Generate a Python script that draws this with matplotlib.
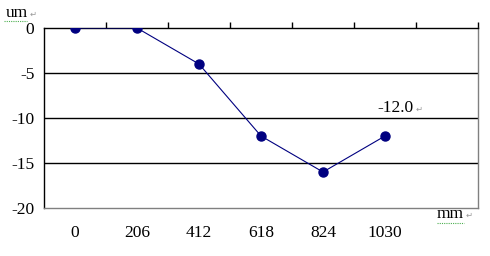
import matplotlib
matplotlib.use('Agg')
import matplotlib.pyplot as plt
from matplotlib.lines import Line2D

# data
positions_mm = ['0', '206', '412', '618', '824', '1030']
deviation_um = [0, 0, -4, -12, -16, -12]
y_ticks = [0, -5, -10, -15, -20]
n_slots = 7  # category axis has one empty slot at the end

plt.rcParams['font.family'] = ['Liberation Serif', 'DejaVu Serif']

W, H = 490, 256
FS = 12.5
fig = plt.figure(figsize=(W / 100, H / 100), dpi=100)
ax = fig.add_axes([44 / W, (H - 208) / H, 434 / W, 180 / H])

xs = list(range(len(deviation_um)))
ax.plot(xs, deviation_um, color='#000080', lw=0.8, marker='o', ms=6.5,
        mfc='#000080', mec='#000080', zorder=3)

ax.set_xlim(-0.5, n_slots - 0.5)
ax.set_ylim(-20, 0)

for v in y_ticks[1:-1]:
    ax.axhline(v, color='black', lw=1, zorder=1)

ax.set_yticks(y_ticks)
ax.set_yticklabels([str(v) for v in y_ticks], fontsize=FS)
ax.tick_params(axis='y', length=0, pad=7)

ax.set_xticks(xs)
ax.set_xticklabels(positions_mm, fontsize=FS)
ax.tick_params(axis='x', which='major', length=0, pad=12)
ax.set_xticks([i + 0.5 for i in range(n_slots)], minor=True)
ax.tick_params(axis='x', which='minor', bottom=False, top=True,
               direction='out', length=4, width=1, color='black')

ax.spines['top'].set_color('black')
ax.spines['left'].set_color('black')
ax.spines['bottom'].set_color('#808080')
ax.spines['right'].set_color('#808080')
for s in ax.spines.values():
    s.set_linewidth(1)

ret = dict(fontsize=6, color='#999999', family='DejaVu Sans', va='center')
ax.text(4.87, -8.9, '-12.0', fontsize=FS, ha='left', va='center')
fig.text(416 / W, 1 - 109 / H, '\u21b5', **ret)

fig.text(6 / W, 1 - 13 / H, 'um', fontsize=FS, va='center')
fig.text(30 / W, 1 - 14 / H, '\u21b5', **ret)
fig.text(437 / W, 1 - 214 / H, 'mm', fontsize=FS, va='center')
fig.text(466 / W, 1 - 215 / H, '\u21b5', **ret)

# spell-check squiggles under the unit labels
for x0, x1, y in [(4, 27, 21), (437, 464, 223)]:
    fig.add_artist(Line2D([x0 / W, x1 / W], [1 - y / H, 1 - y / H],
                          color='#4caf50', lw=0.8, ls=(0, (1, 1))))

fig.savefig('out.png', dpi=100)
